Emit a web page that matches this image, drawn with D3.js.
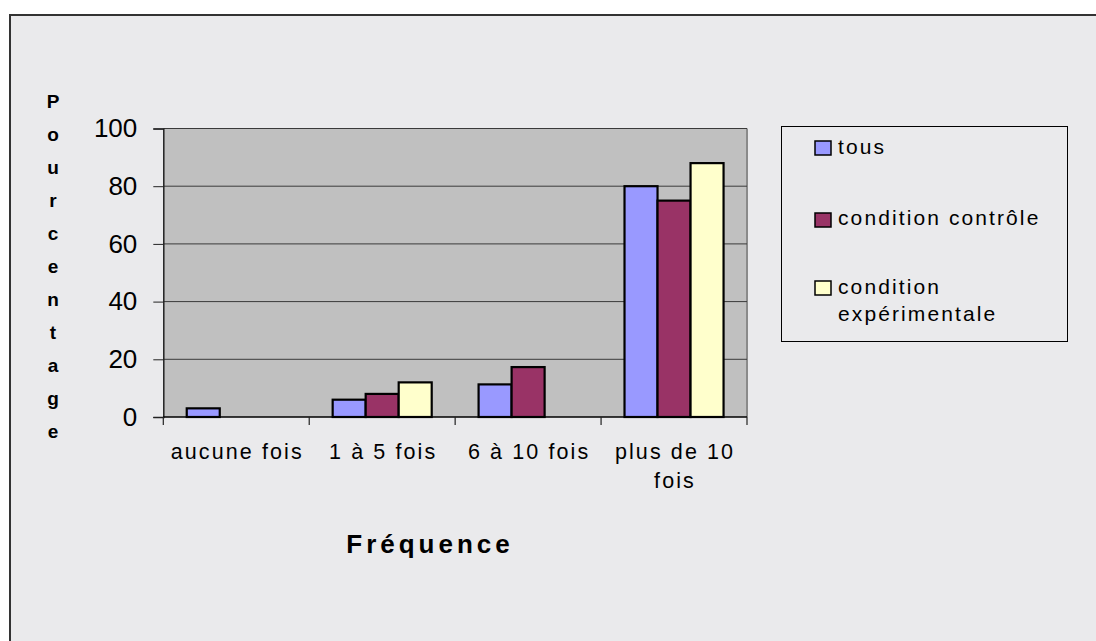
<!DOCTYPE html>
<html><head><meta charset="utf-8">
<script src="https://cdn.jsdelivr.net/npm/d3@7"></script>
<style>
html,body{margin:0;padding:0;background:#fff;}
svg{display:block;font-family:"Liberation Sans",Arial,sans-serif;}
</style></head>
<body><svg id="c" width="1096" height="641"></svg>
<script>
const categories = ["aucune fois", "1 à 5 fois", "6 à 10 fois", "plus de 10 fois"];
const categoryLines = [["aucune fois"], ["1 à 5 fois"], ["6 à 10 fois"], ["plus de 10", "fois"]];
const seriesNames = ["tous", "condition contrôle", "condition expérimentale"];
const tous = [3, 6, 11.3, 80];
const controle = [0, 8, 17.3, 75];
const experimentale = [0, 12, 0, 88];
const yTicks = [0, 20, 40, 60, 80, 100];
const colors = ["#9999FF", "#993366", "#FFFFCC"];
const yTitle = "Pourcentage";
const xTitle = "Fréquence";

(function () {
const seriesValues = [tous, controle, experimentale];
const svg = d3.select("#c");

// outer chart frame
svg.append("rect").attr("x", 10).attr("y", 15).attr("width", 1200).attr("height", 800)
  .attr("fill", "#EAEAEC").attr("stroke", "#333").attr("stroke-width", 2);

const pLeft = 163.3, pRight = 747, pTop = 128.5, pBottom = 417;
const x = d3.scaleBand().domain(categories).range([pLeft, pRight]).padding(0);
const xs = d3.scaleBand().domain(seriesNames).range([0, x.bandwidth()]).paddingInner(0).paddingOuter(0.71);
const y = d3.scaleLinear().domain([0, 100]).range([pBottom, pTop]);

// plot area
svg.append("rect").attr("x", pLeft).attr("y", pTop).attr("width", pRight - pLeft).attr("height", pBottom - pTop)
  .attr("fill", "#C0C0C0");
svg.append("line").attr("x1", pRight).attr("x2", pRight).attr("y1", pTop).attr("y2", pBottom)
  .attr("stroke", "#8a8a8a").attr("stroke-width", 2);

// gridlines
svg.append("g").selectAll("line").data(yTicks.filter(d => d > 0)).join("line")
  .attr("x1", pLeft).attr("x2", pRight).attr("y1", d => y(d)).attr("y2", d => y(d))
  .attr("stroke", "#3a3a3a").attr("stroke-width", 1);

// bars
categories.forEach((c, i) => {
  seriesNames.forEach((s, j) => {
    const v = seriesValues[j][i];
    if (v <= 0) return;
    svg.append("rect")
      .attr("x", x(c) + xs(s)).attr("y", y(v))
      .attr("width", xs.bandwidth()).attr("height", y(0) - y(v))
      .attr("fill", colors[j]).attr("stroke", "#000").attr("stroke-width", 2.2);
  });
});

// y axis
const yAxis = svg.append("g").attr("transform", `translate(${pLeft},0)`)
  .call(d3.axisLeft(y).tickValues(yTicks).tickSize(10).tickPadding(16).tickFormat(d3.format("d")));
yAxis.select(".domain").attr("stroke", "#222").attr("stroke-width", 1.5);
yAxis.selectAll(".tick line").attr("stroke", "#222");
yAxis.selectAll(".tick text").attr("font-size", 26).attr("fill", "#000")
  .attr("font-family", "Liberation Sans, Arial, sans-serif");

// x axis line + boundary ticks
svg.append("line").attr("x1", pLeft).attr("x2", pRight).attr("y1", pBottom).attr("y2", pBottom)
  .attr("stroke", "#000").attr("stroke-width", 1.5);
const bounds = categories.map(c => x(c)).concat([x.range()[1]]);
svg.append("g").selectAll("line").data(bounds).join("line")
  .attr("x1", d => d).attr("x2", d => d).attr("y1", pBottom).attr("y2", pBottom + 8)
  .attr("stroke", "#222").attr("stroke-width", 1.2);

// category labels
const lab = svg.append("g").selectAll("text").data(categories).join("text")
  .attr("text-anchor", "middle").attr("font-size", 21.5).attr("letter-spacing", 2.1).attr("fill", "#000");
lab.each(function(c, i) {
  const t = d3.select(this);
  categoryLines[i].forEach((ln, k) => {
    t.append("tspan").attr("x", x(c) + x.bandwidth() / 2 + 1).attr("y", 459 + k * 29).text(ln);
  });
});

// y title (stacked letters)
svg.append("g").selectAll("text").data(yTitle.split("")).join("text")
  .attr("x", 53).attr("y", (d, i) => 108 + i * 33)
  .attr("text-anchor", "middle").attr("font-size", 19).attr("font-weight", "bold").text(d => d);

// x title
svg.append("text").attr("x", 430).attr("y", 553).attr("text-anchor", "middle")
  .attr("font-size", 26).attr("font-weight", "bold").attr("letter-spacing", 4).text(xTitle);

// legend
svg.append("rect").attr("x", 781.5).attr("y", 126.5).attr("width", 286).attr("height", 215)
  .attr("fill", "none").attr("stroke", "#000").attr("stroke-width", 1);
const legendRows = [
  {lines: ["tous"], sw: 141, base: 153.5},
  {lines: ["condition contrôle"], sw: 213, base: 224.5},
  {lines: ["condition", "expérimentale"], sw: 281, base: 293.5}
];
legendRows.forEach((r, j) => {
  svg.append("rect").attr("x", 815).attr("y", r.sw).attr("width", 16).attr("height", 14)
    .attr("fill", colors[j]).attr("stroke", "#000").attr("stroke-width", 1.5);
  const t = svg.append("text").attr("font-size", 21).attr("letter-spacing", 2.1).attr("fill", "#000");
  r.lines.forEach((ln, k) => {
    t.append("tspan").attr("x", 838).attr("y", r.base + k * 27).text(ln);
  });
});
})();
</script></body></html>
